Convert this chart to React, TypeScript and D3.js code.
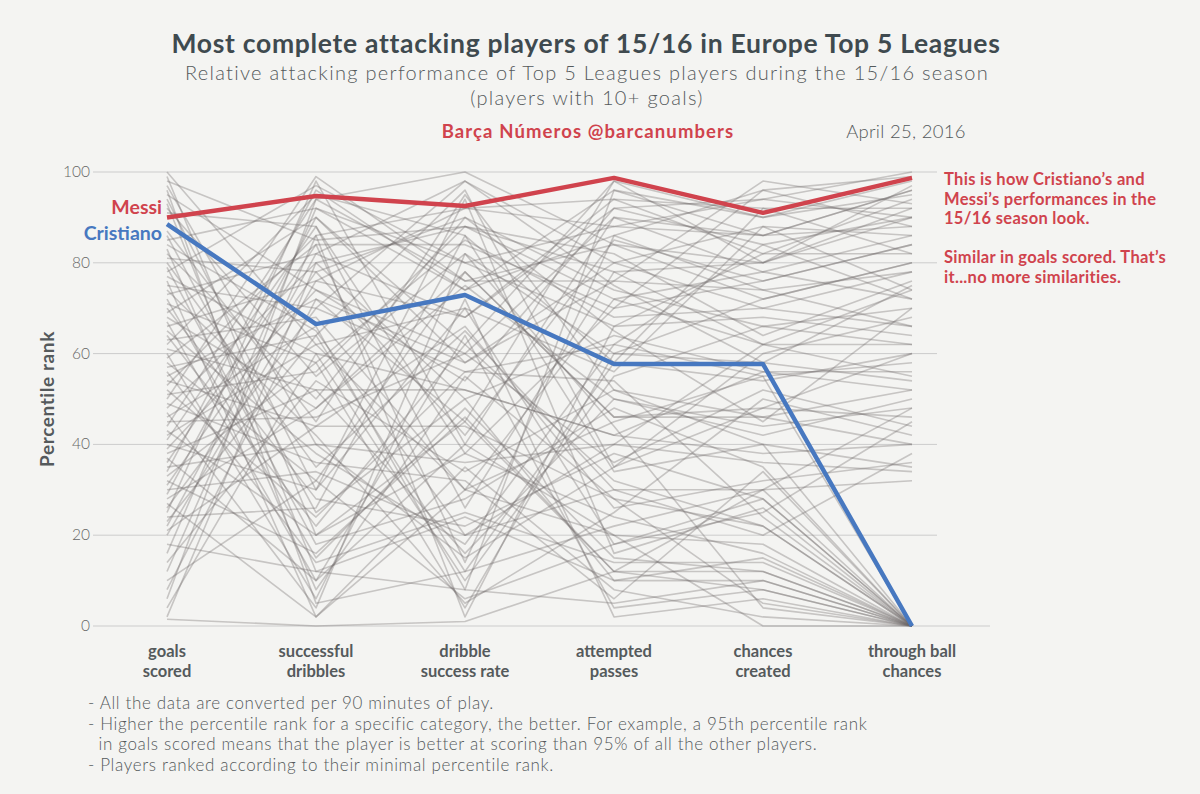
import React from 'react';
import * as d3 from 'd3';

const categories = [
  ['goals', 'scored'],
  ['successful', 'dribbles'],
  ['dribble', 'success rate'],
  ['attempted', 'passes'],
  ['chances', 'created'],
  ['through ball', 'chances'],
];

const yTicks = [0, 20, 40, 60, 80, 100];

const messi = [90, 94.7, 92.5, 98.7, 91, 98.7];
const cristiano = [88.5, 66.5, 72.9, 57.7, 57.7, 0];

// percentile ranks of the other players (10+ goals)
const others: number[][] = [
  [100, 62, 30, 45, 55, 0],
  [99, 20, 45, 12, 8, 0],
  [98, 85, 88, 78, 80, 92],
  [97, 40, 15, 35, 48, 60],
  [96, 5, 12, 22, 30, 0],
  [95, 74, 60, 90, 86, 96],
  [94, 30, 70, 18, 25, 45],
  [93, 12, 8, 5, 10, 0],
  [92, 55, 82, 60, 72, 80],
  [91, 88, 38, 70, 96, 88],
  [87, 45, 95, 52, 40, 35],
  [86, 25, 50, 10, 15, 0],
  [85, 92, 74, 96, 90, 98],
  [84, 65, 20, 40, 62, 55],
  [83, 8, 55, 28, 5, 0],
  [82, 50, 90, 65, 45, 70],
  [81, 78, 42, 85, 76, 84],
  [80, 35, 65, 30, 20, 38],
  [79, 18, 28, 48, 35, 0],
  [78, 97, 80, 88, 94, 100],
  [77, 60, 10, 55, 66, 62],
  [76, 2, 35, 8, 2, 0],
  [75, 70, 98, 75, 58, 75],
  [74, 42, 5, 25, 50, 42],
  [73, 82, 68, 92, 84, 90],
  [72, 15, 48, 15, 12, 0],
  [71, 58, 85, 68, 70, 66],
  [70, 28, 22, 38, 28, 0],
  [69, 90, 58, 80, 88, 86],
  [68, 48, 75, 50, 42, 50],
  [67, 10, 40, 20, 18, 0],
  [66, 76, 92, 94, 82, 94],
  [65, 38, 18, 62, 55, 58],
  [64, 22, 62, 32, 22, 0],
  [63, 68, 30, 72, 78, 72],
  [62, 95, 86, 58, 92, 82],
  [61, 52, 52, 42, 38, 40],
  [60, 6, 72, 2, 6, 0],
  [59, 84, 14, 86, 74, 78],
  [58, 32, 78, 46, 46, 52],
  [57, 64, 96, 35, 60, 68],
  [56, 14, 25, 14, 14, 0],
  [55, 72, 45, 98, 80, 97],
  [54, 44, 66, 26, 32, 36],
  [53, 86, 2, 66, 68, 64],
  [52, 24, 56, 54, 24, 0],
  [51, 56, 88, 82, 64, 76],
  [50, 99, 76, 76, 98, 93],
  [49, 36, 32, 6, 34, 0],
  [48, 80, 50, 64, 56, 56],
  [47, 4, 82, 44, 4, 0],
  [46, 66, 8, 96, 86, 88],
  [45, 46, 60, 36, 52, 44],
  [44, 94, 100, 84, 72, 80],
  [43, 20, 38, 24, 16, 0],
  [42, 62, 70, 56, 88, 74],
  [41, 88, 26, 78, 62, 62],
  [40, 30, 94, 16, 26, 0],
  [39, 74, 54, 92, 94, 90],
  [38, 52, 16, 50, 44, 48],
  [37, 10, 64, 4, 8, 0],
  [36, 84, 84, 70, 76, 84],
  [35, 40, 36, 40, 36, 34],
  [34, 96, 74, 86, 96, 99],
  [33, 58, 4, 60, 58, 54],
  [32, 16, 46, 12, 12, 0],
  [31, 78, 90, 74, 66, 70],
  [30, 34, 20, 30, 30, 32],
  [29, 90, 62, 98, 90, 95],
  [28, 48, 78, 46, 48, 46],
  [27, 2, 30, 20, 0, 0],
  [26, 70, 56, 62, 84, 72],
  [25, 98, 40, 90, 78, 86],
  [24, 26, 86, 34, 40, 0],
  [23, 64, 12, 58, 54, 60],
  [22, 82, 98, 80, 70, 78],
  [21, 44, 44, 28, 22, 0],
  [20, 76, 68, 94, 92, 92],
  [18, 12, 24, 10, 10, 0],
  [16, 92, 80, 66, 82, 82],
  [14, 54, 34, 52, 46, 40],
  [12, 86, 92, 88, 86, 96],
  [10, 32, 6, 18, 28, 0],
  [8, 72, 58, 76, 74, 66],
  [6, 94, 76, 84, 80, 90],
  [4, 60, 52, 42, 56, 52],
  [2, 80, 88, 72, 62, 74],
  [1.5, 0, 1, 12, 30, 48],
];

const footnotes = [
  '- All the data are converted per 90 minutes of play.',
  '- Higher the percentile rank for a specific category, the better. For example, a 95th percentile rank',
  '  in goals scored means that the player is better at scoring than 95% of all the other players.',
  '- Players ranked according to their minimal percentile rank.',
];

const annotation = [
  'This is how Cristiano\u2019s and',
  'Messi\u2019s performances in the',
  '15/16 season look.',
  '',
  'Similar in goals scored. That\u2019s',
  'it...no more similarities.',
];

const FONT = 'Lato, "Noto Sans", sans-serif';
const RED = '#d0434d';
const BLUE = '#4778c0';
const GREY_TEXT = '#555a5c';

export default function App() {
  const width = 1200;
  const height = 794;

  const x = d3.scalePoint<number>()
    .domain(d3.range(categories.length))
    .range([167, 912]);
  const y = d3.scaleLinear().domain([0, 100]).range([626, 172]);

  const line = d3.line<number>()
    .x((_, i) => x(i) as number)
    .y(d => y(d));

  return (
    <svg width={width} height={height} style={{ display: 'block', position: 'absolute', left: 0, top: 0, background: '#f4f4f2' }}>
      <rect x={0} y={0} width={width} height={height} fill="#f4f4f2" />

      {/* titles */}
      <text x={586} y={53} textAnchor="middle" fontFamily={FONT} fontWeight={700} fontSize={26.5} letterSpacing={0.7} fill="#3f4a4f">
        Most complete attacking players of 15/16 in Europe Top 5 Leagues
      </text>
      <text x={587} y={80} textAnchor="middle" fontFamily={FONT} fontWeight={300} fontSize={20} letterSpacing={1.3} fill={GREY_TEXT}>
        Relative attacking performance of Top 5 Leagues players during the 15/16 season
      </text>
      <text x={587} y={105} textAnchor="middle" fontFamily={FONT} fontWeight={300} fontSize={20} letterSpacing={1.3} fill={GREY_TEXT}>
        (players with 10+ goals)
      </text>
      <text x={588} y={138} textAnchor="middle" fontFamily={FONT} fontWeight={700} fontSize={18.5} letterSpacing={1.1} fill={RED}>
        Barça Números @barcanumbers
      </text>
      <text x={906} y={138} textAnchor="middle" fontFamily={FONT} fontWeight={300} fontSize={18.5} letterSpacing={0.3} fill={GREY_TEXT}>
        April 25, 2016
      </text>

      {/* grid */}
      {yTicks.map(t => (
        <g key={t}>
          <line x1={93} x2={t === 0 ? 990 : 937} y1={y(t)} y2={y(t)} stroke="#cccccc" strokeWidth={1} />
          <text x={90} y={y(t) + 5} textAnchor="end" fontFamily={FONT} fontWeight={300} fontSize={15.5} fill="#666">
            {t}
          </text>
        </g>
      ))}

      <text transform={`translate(54,${y(50)}) rotate(-90)`} textAnchor="middle" fontFamily={FONT} fontWeight={700} fontSize={19} letterSpacing={0.6} fill={GREY_TEXT}>
        Percentile rank
      </text>

      {/* other players */}
      <g fill="none" stroke="#6f6a6a" strokeOpacity={0.34} strokeWidth={1.6} strokeLinejoin="round">
        {others.map((p, i) => (
          <path key={i} d={line(p) || ''} />
        ))}
      </g>

      <path d={line(cristiano) || ''} fill="none" stroke={BLUE} strokeWidth={4.5} strokeLinejoin="round" />
      <path d={line(messi) || ''} fill="none" stroke={RED} strokeWidth={4.5} strokeLinejoin="round" />

      <text x={162} y={y(messi[0]) - 3} textAnchor="end" fontFamily={FONT} fontWeight={700} fontSize={19.5} fill={RED}>Messi</text>
      <text x={162} y={y(cristiano[0]) + 16} textAnchor="end" fontFamily={FONT} fontWeight={700} fontSize={19.5} fill={BLUE}>Cristiano</text>

      {/* axis labels */}
      {categories.map((c, i) => (
        <text key={i} x={x(i)} textAnchor="middle" fontFamily={FONT} fontWeight={700} fontSize={16.5} fill={GREY_TEXT}>
          <tspan x={x(i)} y={657}>{c[0]}</tspan>
          <tspan x={x(i)} y={677}>{c[1]}</tspan>
        </text>
      ))}

      {/* annotation */}
      <text fontFamily={FONT} fontWeight={700} fontSize={16.5} letterSpacing={0.3} fill={RED}>
        {annotation.map((a, i) => (
          <tspan key={i} x={944} y={185 + i * 19.5}>{a}</tspan>
        ))}
      </text>

      {/* footnotes */}
      <text fontFamily={FONT} fontWeight={300} fontSize={17} letterSpacing={0.65} fill={GREY_TEXT} style={{ whiteSpace: 'pre' }}>
        {footnotes.map((f, i) => (
          <tspan key={i} x={88} y={709 + i * 20.7}>{f}</tspan>
        ))}
      </text>
    </svg>
  );
}
